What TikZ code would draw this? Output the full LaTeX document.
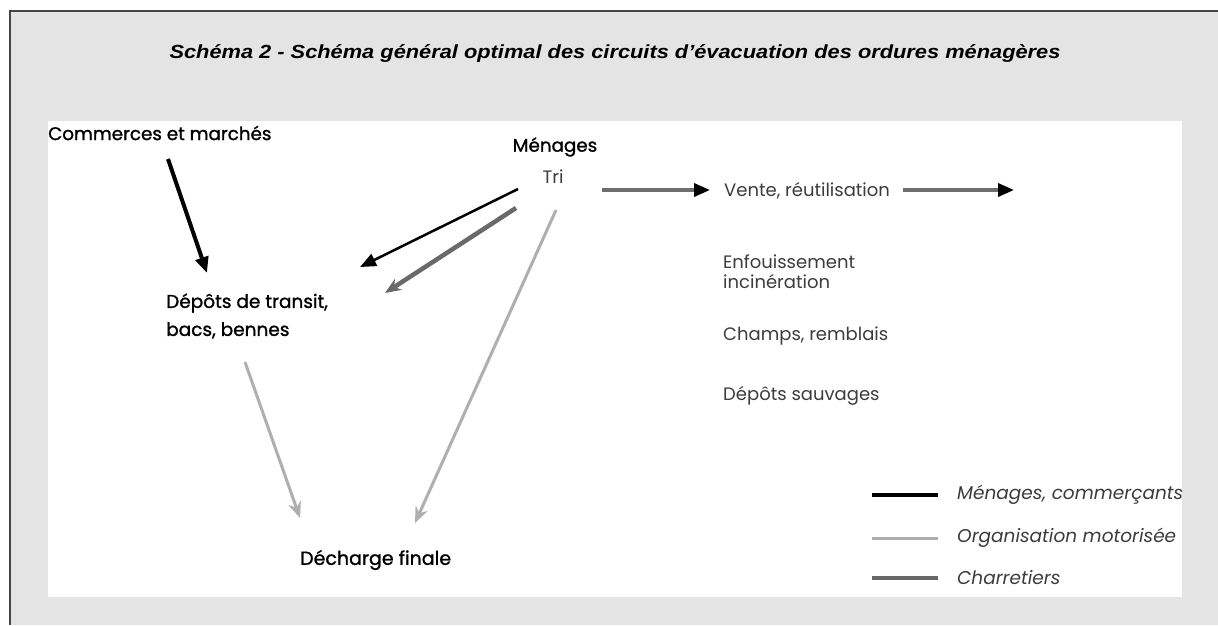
\documentclass[tikz,border=0pt]{standalone}
\usepackage{fontspec}
\usetikzlibrary{arrows.meta}
\newfontfamily\titlefont{Liberation Sans}
\newfontfamily\fut{Poppins}
\newfontfamily\futb[FakeBold=1.2]{Poppins}
\definecolor{bggray}{RGB}{228,228,228}
\definecolor{framecol}{RGB}{70,70,70}
\definecolor{lightcol}{RGB}{60,60,60}
\definecolor{motor}{RGB}{175,175,175}
\definecolor{charret}{RGB}{105,105,105}
\definecolor{ventecol}{RGB}{110,110,110}
\tikzset{
  strong/.style={font=\futb\fontsize{18.3}{19}\selectfont, text=black, inner sep=0pt},
  light/.style={font=\fut\fontsize{18}{20}\selectfont, text=lightcol, inner sep=0pt},
  legtext/.style={font=\fut\itshape\fontsize{18.5}{19}\selectfont, text=lightcol, inner sep=0pt, anchor=west},
  menline/.style={line width=4pt, black},
  thinline/.style={line width=2.5pt, black},
  motline/.style={line width=3pt, motor},
  charline/.style={line width=4.5pt, charret},
  venteline/.style={line width=3.5pt, ventecol},
  blackhead/.style={-{Triangle[length=16pt,width=13pt]}},
  venthead/.style={-{Triangle[length=16pt,width=13pt,color=black]}},
  gshead/.style={-{Stealth[length=16pt,width=13pt]}}
}
\begin{document}
\begin{tikzpicture}[x=1pt,y=-1pt]
\useasboundingbox (0,0) rectangle (1218,625);
% background and frame
\fill[bggray] (10,11) rectangle (1218,625);
\draw[framecol, line width=1.3pt] (10,625) -- (10,11) -- (1218,11);
\fill[white] (47.5,121) rectangle (1182,597);
% title
\node[font=\titlefont\bfseries\itshape\fontsize{19}{22}\selectfont, inner sep=0pt] (title) at (615,53)
  {\scalebox{1.148}[1]{Schéma 2 - Schéma général optimal des circuits d’évacuation des ordures ménagères}};
% nodes
\node[strong, anchor=west] (com) at (48,133) {Commerces et marchés};
\node[strong] (men) at (555,147) {Ménages};
\node[light] (tri) at (553,177) {Tri};
\node[strong, anchor=west, align=left, font=\futb\fontsize{18.5}{28}\selectfont] (dep) at (166,316) {Dépôts de transit,\\bacs, bennes};
\node[strong, anchor=west, font=\futb\fontsize{19}{19}\selectfont] (dech) at (300,560) {Décharge finale};
\node[light, anchor=west] (vente) at (724,191) {Vente, réutilisation};
\node[light, anchor=west, align=left] (enf) at (723,272) {Enfouissement\\incinération};
\node[light, anchor=west] (champs) at (723,336) {Champs, remblais};
\node[light, anchor=west] (sauv) at (723,396) {Dépôts sauvages};
% arrow end points
\coordinate (c1) at (168,159);
\coordinate (d1) at (207,273);
\coordinate (m1) at (518,189);
\coordinate (d2) at (360,267);
\coordinate (m2) at (516,208);
\coordinate (d3) at (385,293);
\coordinate (m3) at (556,210);
\coordinate (f1) at (415,523);
\coordinate (dp1) at (245,362);
\coordinate (f2) at (300,518);
\coordinate (t1) at (602,190);
\coordinate (v1) at (710,190);
\coordinate (v2) at (903,190);
\coordinate (v3) at (1014,190);
% arrows
\draw[menline, blackhead] (c1) -- (d1);
\draw[thinline, blackhead] (m1) -- (d2);
\draw[charline, gshead] (m2) -- (d3);
\draw[motline, gshead] (m3) -- (f1);
\draw[motline, gshead] (dp1) -- (f2);
\draw[venteline, venthead] (t1) -- (v1);
\draw[venteline, venthead] (v2) -- (v3);
% legend
\coordinate (l1a) at (872,495); \coordinate (l1b) at (938,495);
\coordinate (l2a) at (872,538); \coordinate (l2b) at (938,538);
\coordinate (l3a) at (872,578); \coordinate (l3b) at (938,578);
\draw[menline] (l1a) -- (l1b);
\draw[motline] (l2a) -- (l2b);
\draw[charline] (l3a) -- (l3b);
\node[legtext] (leg1) at (957,495) {Ménages, commerçants};
\node[legtext] (leg2) at (957,538) {Organisation motorisée};
\node[legtext] (leg3) at (957,578) {Charretiers};
\end{tikzpicture}
\end{document}
